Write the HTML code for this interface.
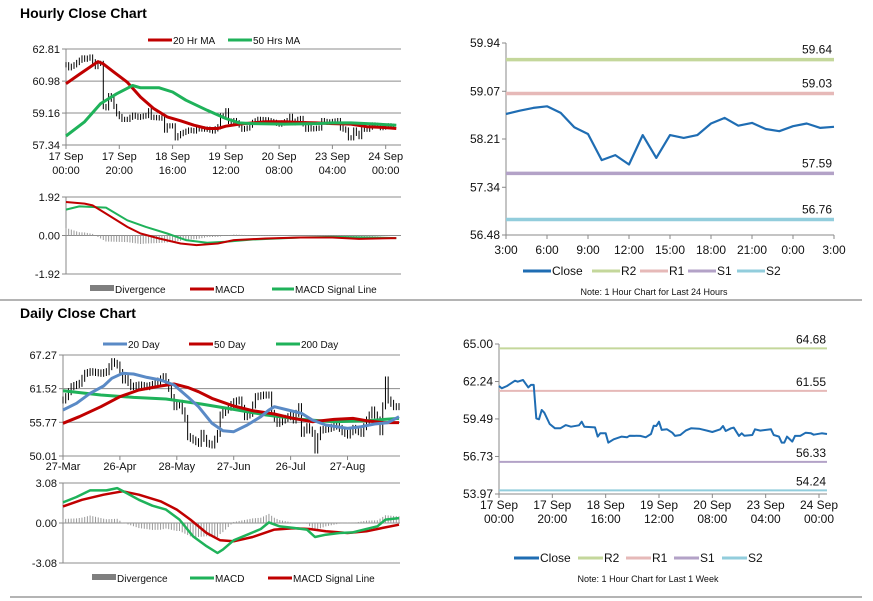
<!DOCTYPE html>
<html><head><meta charset="utf-8"><style>
body{margin:0;background:#fff}
svg{display:block;font-family:"Liberation Sans",Arial,sans-serif}
</style></head><body>
<svg id="s" width="873" height="601" viewBox="0 0 873 601">
<text x="20" y="18" font-size="14" font-weight="bold">Hourly Close Chart</text>
<text x="20" y="318" font-size="14" font-weight="bold">Daily Close Chart</text>
<line x1="0" y1="300" x2="862" y2="300" stroke="#888" stroke-width="1.2"/>
<line x1="10" y1="597" x2="862" y2="597" stroke="#888" stroke-width="1.2"/>
</svg>
<script>
// ---- Hourly week data (hour index) ----
const wkHours=[0,1,3,6,7,9,11,12,13,14,15,16,17,19,21,23,25,27,30,31,32,36,37,38,40,41,43,46,48,49,53,55,57,58,59,60,61,63,65,66,68,70,72,75,78,80,83,84,85,87,88,90,91,92,95,96,98,102,103,105,106,107,108,110,111,113,115,117,118,121,123];
const wkClose=[61.91,61.74,61.91,62.30,62.23,62.35,61.81,61.99,61.99,59.53,59.46,60.15,59.95,59.12,58.80,58.80,59.04,58.92,59.02,59.29,58.92,58.87,58.19,58.43,58.43,57.75,57.99,58.19,58.14,58.26,58.24,58.14,58.38,58.99,58.97,59.29,58.68,58.73,58.48,58.24,58.31,58.63,58.80,58.77,58.63,58.53,58.73,58.97,58.60,58.80,58.85,58.24,58.43,58.26,58.31,58.73,58.63,58.73,58.31,58.19,57.75,57.75,58.19,57.82,58.24,58.24,58.48,58.43,58.33,58.43,58.38];
const ma20Hours=[0,5,12,14,18,23,28,33,38,43,48,53,57,60,65,70,75,82,88,94,100,107,113,119,124];
const ma20Vals=[60.83,61.36,62.09,61.96,61.49,60.92,60.07,59.41,58.94,58.72,58.47,58.28,58.28,58.41,58.53,58.60,58.66,58.66,58.62,58.60,58.56,58.53,58.38,58.34,58.28];
const ma50Hours=[0,7,13,19,25,28,35,40,45,53,60,65,70,82,94,100,107,113,124];
const ma50Vals=[57.85,58.66,59.70,60.26,60.73,60.60,60.60,60.36,59.89,59.32,58.85,58.60,58.56,58.53,58.56,58.60,58.60,58.56,58.47];
const hMacdHours=[0,7,10,15,23,28,35,43,49,57,63,75,88,100,110,124];
const hMacdVals=[1.67,1.59,1.50,1.09,0.43,0.10,-0.15,-0.40,-0.48,-0.40,-0.23,-0.15,-0.10,-0.10,-0.17,-0.13];
const hSigHours=[0,5,15,23,30,38,45,53,60,70,88,100,113,124];
const hSigVals=[1.29,1.45,1.39,0.76,0.43,0.10,-0.23,-0.36,-0.31,-0.20,-0.10,-0.07,-0.10,-0.13];
const wkTickHours=[0,20,40,60,80,100,120];
const wkTickL1=["17 Sep","17 Sep","18 Sep","19 Sep","20 Sep","23 Sep","24 Sep"];
const wkTickL2=["00:00","20:00","16:00","12:00","08:00","04:00","00:00"];
const hPriceTicks=[57.34,59.16,60.98,62.81];
const hMacdTicks=[-1.92,0.00,1.92];
// ---- Last 24h ----
const dayCloseVals=[58.66,58.72,58.77,58.80,58.68,58.42,58.30,57.83,57.92,57.75,58.28,57.87,58.28,58.23,58.28,58.49,58.59,58.45,58.50,58.39,58.35,58.44,58.49,58.41,58.43];
const dayTickLabels=["3:00","6:00","9:00","12:00","15:00","18:00","21:00","0:00","3:00"];
const dayYTicks=[56.48,57.34,58.21,59.07,59.94];
const dayPivotNames=["R2","R1","S1","S2"];
const dayPivots=[59.64,59.03,57.59,56.76];
const wkPivots=[64.68,61.55,56.33,54.24];
const wkYTicks=[53.97,56.73,59.49,62.24,65.00];
// ---- Daily ----
const dDays=[0,1,3,6,8,10,14,16,18,20,22,23,25,28,31,34,37,39,41,43,45,46,48,50,51,53,55,57,58,60,63,65,67,69,71,74,76,77,79,81,84,85,87,88,90,92,93,94,95,98,101,103,105,107,110,112,114,116,117,119,120,122,124];
const dClose=[59.58,60.15,61.86,62.43,64.14,64.42,64.14,64.42,66.13,65.56,63.00,63.28,61.86,62.14,61.86,62.43,63.57,61.57,58.44,59.01,56.44,53.31,52.74,52.17,53.88,52.17,51.89,53.88,57.01,57.87,59.29,59.58,56.73,57.30,60.15,60.43,60.43,57.30,55.59,56.16,57.01,56.16,58.44,53.88,55.02,53.88,51.03,53.31,54.45,54.73,55.31,54.16,53.59,54.73,53.88,56.16,57.87,56.16,54.16,63.00,59.58,58.44,58.44];
const d20Days=[0,5,10,15,18,22,26,31,36,41,46,50,55,59,63,68,73,76,78,83,88,92,97,105,110,115,120,124];
const d20Vals=[57.87,59.01,60.72,61.97,63.28,64.14,64.02,63.45,63.00,62.14,60.15,58.44,55.59,54.34,54.16,55.31,56.73,57.87,58.44,57.87,57.30,56.16,55.31,54.73,55.02,55.48,55.71,56.73];
const d50Days=[0,6,14,21,28,36,41,46,50,55,63,70,78,85,92,100,107,112,118,124];
const d50Vals=[55.59,56.73,58.44,60.15,61.29,61.97,62.31,61.74,61.00,59.86,58.55,57.75,57.18,56.44,55.87,56.27,56.44,56.04,55.71,55.71];
const d200Days=[0,14,26,38,51,63,75,88,100,112,124];
const d200Vals=[61.17,60.43,60.03,59.75,58.89,57.98,57.01,56.27,55.87,56.04,56.44];
const dMacdDays=[0,5,10,16,20,23,28,33,38,43,48,53,57,59,63,68,73,76,80,85,90,93,97,102,107,112,116,119,124];
const dMacdVals=[1.59,2.00,2.51,2.51,2.69,2.36,1.79,1.33,1.03,0.26,-1.03,-1.79,-2.31,-2.05,-1.33,-0.90,-0.46,0.05,-0.26,-0.38,-0.51,-1.08,-0.90,-0.77,-0.72,-0.46,-0.26,0.26,0.38];
const dSigDays=[0,7,15,22,28,36,42,47,53,58,63,70,78,85,91,97,105,112,118,124];
const dSigVals=[1.28,1.79,2.18,2.44,2.18,1.67,1.03,0.26,-0.77,-1.33,-1.41,-1.08,-0.51,-0.41,-0.46,-0.64,-0.77,-0.64,-0.38,-0.13];
const dTickDays=[0,21,42,63,84,105];
const dTickLabels=["27-Mar","26-Apr","28-May","27-Jun","26-Jul","27-Aug"];
const dPriceTicks=[50.01,55.77,61.52,67.27];
const dMacdTicks=[-3.08,0.00,3.08];

const NS="http://www.w3.org/2000/svg";
const svg=document.getElementById('s');
function el(t,a,txt){const e=document.createElementNS(NS,t);for(const k in a)e.setAttribute(k,a[k]);if(txt!==undefined)e.textContent=txt;svg.appendChild(e);return e;}
function sc(d0,d1,r0,r1){return v=>r0+(v-d0)*(r1-r0)/(d1-d0);}
function interp(xs,ys,t){if(t<=xs[0])return ys[0];for(let i=1;i<xs.length;i++){if(t<=xs[i]){const f=(t-xs[i-1])/(xs[i]-xs[i-1]);return ys[i-1]+f*(ys[i]-ys[i-1]);}}return ys[ys.length-1];}
function poly(xs,ys,X,Y,color,w,name){const p=xs.map((x,i)=>X(x).toFixed(1)+','+Y(ys[i]).toFixed(1)).join(' ');const e=el('polyline',{points:p,fill:'none',stroke:color,'stroke-width':w,'stroke-linejoin':'round'});

return e;}
function yAxis(ticks,Y,x0,x1,grid,name,fs){ticks.forEach(t=>{if(grid){const g=el('line',{x1:x0,x2:x1,y1:Y(t),y2:Y(t),stroke:'#8c8c8c','stroke-width':1});

}
el('line',{x1:x0-4,x2:x0,y1:Y(t),y2:Y(t),stroke:'#888'});
const l=el('text',{x:x0-6,y:Y(t)+4,'font-size':fs||11,'text-anchor':'end',fill:'#111'},t.toFixed(2));

});
const a=el('line',{x1:x0,x2:x0,y1:Y(ticks[ticks.length-1]),y2:Y(ticks[0]),stroke:'#888'});

}
function legend(items,y,fs){items.forEach(it=>{if(it.bar){el('rect',{x:it.x,y:y-4,width:it.len,height:6,fill:'#7f7f7f'});}else{el('line',{x1:it.x,x2:it.x+it.len,y1:y,y2:y,stroke:it.c,'stroke-width':it.w||3});}
const t=el('text',{x:it.x+it.len+1,y:y+4,'font-size':fs||11,fill:'#111'},it.t);

});}
function twoLineTicks(hours,l1,l2,X,y,fs){hours.forEach((h,i)=>{el('line',{x1:X(h),x2:X(h),y1:y,y2:y+4,stroke:'#888'});
const a=el('text',{x:X(h),y:y+15,'font-size':fs,'text-anchor':'middle',fill:'#111'},l1[i]);


const b=el('text',{x:X(h),y:y+29,'font-size':fs,'text-anchor':'middle',fill:'#111'},l2[i]);

});}
function bars(xs,ys,X,Y,pad,name){const n=xs[xs.length-1];for(let t=0;t<=n;t++){const cur=interp(xs,ys,t),prev=interp(xs,ys,Math.max(0,t-1));const hi=Math.max(prev,cur)+pad,lo=Math.min(prev,cur)-pad;
const b=el('line',{x1:X(t),x2:X(t),y1:Y(hi),y2:Y(lo),stroke:'#000','stroke-width':1});

}}
function divergence(mx,mv,sx,sv,X,Y,n,name){for(let t=0;t<=n;t++){const v=interp(mx,mv,t)-interp(sx,sv,t);
const b=el('line',{x1:X(t),x2:X(t),y1:Y(0),y2:Y(v),stroke:'#999','stroke-width':1});

}}

// ===== Hourly close (top-left) =====
(function(){
const X=sc(0,125,66,399);const Y=sc(57.34,62.81,145,49);
yAxis(hPriceTicks,Y,66,401,true,'hourly-y-tick');
el('line',{x1:66,x2:401,y1:145,y2:145,stroke:'#888'});
bars(wkHours,wkClose,X,Y,0.15,'hourly-price-bar');
poly(ma20Hours,ma20Vals,X,Y,'#c00000',3,'ma20-line');
poly(ma50Hours,ma50Vals,X,Y,'#1fb25a',3,'ma50-line');
twoLineTicks(wkTickHours,wkTickL1,wkTickL2,X,145,11);
legend([{x:148,len:24,c:'#c00000',t:'20 Hr MA'},{x:228,len:24,c:'#1fb25a',t:'50 Hrs MA'}],40,10);
const MY=sc(-1.92,1.92,274,197);
yAxis(hMacdTicks,MY,66,401,true,'hourly-macd-y-tick');
divergence(hMacdHours,hMacdVals,hSigHours,hSigVals,X,MY,124,'hourly-divergence-bar');
poly(hSigHours,hSigVals,X,MY,'#1fb25a',2,'hourly-macd-signal-line');
poly(hMacdHours,hMacdVals,X,MY,'#c00000',2,'hourly-macd-line');
legend([{x:90,len:24,bar:1,t:'Divergence'},{x:190,len:24,c:'#c00000',t:'MACD'},{x:272,len:22,c:'#1fb25a',t:'MACD Signal Line'}],289,10);
})();

// ===== Last 24 hours (top-right) =====
const pivotColors=['#c4d79b','#e6b9b8','#b3a2c7','#92cddc'];
(function(){
const X=sc(0,24,506,834);const Y=sc(56.48,59.94,235,43);
yAxis(dayYTicks,Y,506,834,false,'day-y-tick',12);
el('line',{x1:506,x2:834,y1:235,y2:235,stroke:'#888'});
dayTickLabels.forEach((l,i)=>{const h=i*3;el('line',{x1:X(h),x2:X(h),y1:235,y2:239,stroke:'#888'});
const t=el('text',{x:X(h),y:254,'font-size':12,'text-anchor':'middle',fill:'#111'},l);

});
dayPivots.forEach((p,i)=>{const l=el('line',{x1:506,x2:834,y1:Y(p),y2:Y(p),stroke:pivotColors[i],'stroke-width':3.5});


const t=el('text',{x:832,y:Y(p)-6,'font-size':12,'text-anchor':'end',fill:'#111'},p.toFixed(2));

});
poly(dayCloseVals.map((v,i)=>i),dayCloseVals,X,Y,'#1f6db3',2.2,'day-close-line');
legend([{x:523,len:28,c:'#1f6db3',t:'Close'},{x:592,len:28,c:pivotColors[0],t:'R2'},{x:640,len:28,c:pivotColors[1],t:'R1'},{x:688,len:28,c:pivotColors[2],t:'S1'},{x:737,len:28,c:pivotColors[3],t:'S2'}],271,12);
const n=el('text',{x:654,y:295,'font-size':9,'text-anchor':'middle',fill:'#111'},'Note: 1 Hour Chart for Last 24 Hours');


})();

// ===== Daily close (bottom-left) =====
(function(){
const X=sc(0,124,63,399);const Y=sc(50.01,67.27,456,355);
yAxis(dPriceTicks,Y,63,400,true,'daily-y-tick');
bars(dDays,dClose,X,Y,0.6,'daily-price-bar');
poly(d200Days,d200Vals,X,Y,'#1fb25a',3,'ma200-line');
poly(d50Days,d50Vals,X,Y,'#c00000',3,'ma50-day-line');
poly(d20Days,d20Vals,X,Y,'#5a8ac6',3,'ma20-day-line');
dTickDays.forEach((d,i)=>{el('line',{x1:X(d),x2:X(d),y1:456,y2:460,stroke:'#888'});
const t=el('text',{x:X(d),y:470,'font-size':11,'text-anchor':'middle',fill:'#111'},dTickLabels[i]);

});
legend([{x:103,len:24,c:'#5a8ac6',t:'20 Day'},{x:189,len:24,c:'#c00000',t:'50 Day'},{x:276,len:24,c:'#1fb25a',t:'200 Day'}],344,10);
const MY=sc(-3.08,3.08,563,483);
yAxis(dMacdTicks,MY,63,400,true,'daily-macd-y-tick');
divergence(dMacdDays,dMacdVals,dSigDays,dSigVals,X,MY,124,'daily-divergence-bar');
poly(dSigDays,dSigVals,X,MY,'#c00000',2.5,'daily-macd-signal-line');
poly(dMacdDays,dMacdVals,X,MY,'#1fb25a',2.5,'daily-macd-line');
legend([{x:92,len:24,bar:1,t:'Divergence'},{x:190,len:24,c:'#1fb25a',t:'MACD'},{x:268,len:24,c:'#c00000',t:'MACD Signal Line'}],578,10);
})();

// ===== Last week (bottom-right) =====
(function(){
const X=sc(0,123,499,827);const Y=sc(53.97,65.00,494,344);
yAxis(wkYTicks,Y,499,827,false,'week-y-tick',12);
el('line',{x1:499,x2:827,y1:494,y2:494,stroke:'#888'});
wkPivots.forEach((p,i)=>{const l=el('line',{x1:499,x2:827,y1:Y(p),y2:Y(p),stroke:pivotColors[i],'stroke-width':2});


const t=el('text',{x:826,y:Y(p)-5,'font-size':12,'text-anchor':'end',fill:'#111'},p.toFixed(2));

});
poly(wkHours,wkClose,X,Y,'#1f6db3',2,'week-close-line');
twoLineTicks(wkTickHours,wkTickL1,wkTickL2,X,494,12);
legend([{x:514,len:25,c:'#1f6db3',t:'Close'},{x:578,len:25,c:pivotColors[0],t:'R2'},{x:626,len:25,c:pivotColors[1],t:'R1'},{x:674,len:25,c:pivotColors[2],t:'S1'},{x:722,len:25,c:pivotColors[3],t:'S2'}],558,12);
const n=el('text',{x:648,y:582,'font-size':9,'text-anchor':'middle',fill:'#111'},'Note: 1 Hour Chart for Last 1 Week');


})();
</script>
</body></html>
